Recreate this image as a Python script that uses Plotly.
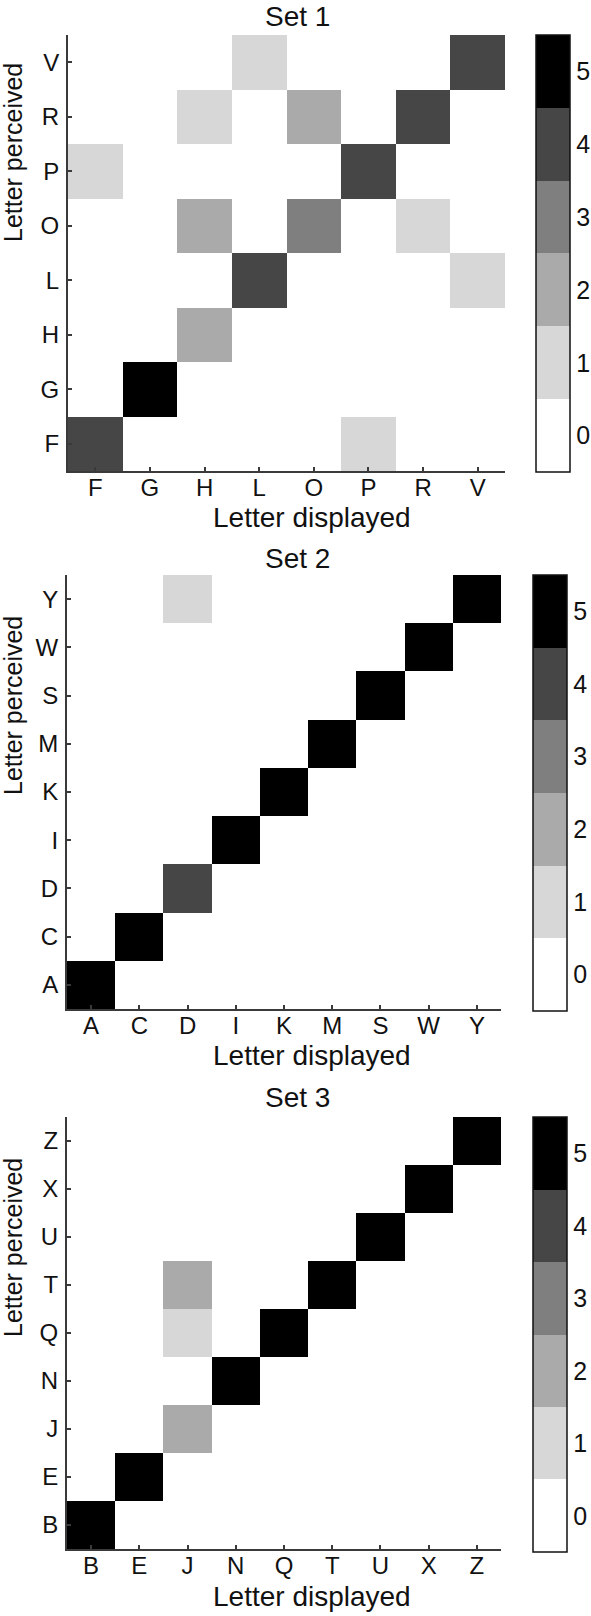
import plotly.graph_objects as go

# ---------------- data ----------------
set1_letters = ["F", "G", "H", "L", "O", "P", "R", "V"]
# rows = letter perceived (bottom -> top), columns = letter displayed
set1_z = [
    [4, 0, 0, 0, 0, 1, 0, 0],  # F
    [0, 5, 0, 0, 0, 0, 0, 0],  # G
    [0, 0, 2, 0, 0, 0, 0, 0],  # H
    [0, 0, 0, 4, 0, 0, 0, 1],  # L
    [0, 0, 2, 0, 3, 0, 1, 0],  # O
    [1, 0, 0, 0, 0, 4, 0, 0],  # P
    [0, 0, 1, 0, 2, 0, 4, 0],  # R
    [0, 0, 0, 1, 0, 0, 0, 4],  # V
]

set2_letters = ["A", "C", "D", "I", "K", "M", "S", "W", "Y"]
set2_z = [
    [5, 0, 0, 0, 0, 0, 0, 0, 0],  # A
    [0, 5, 0, 0, 0, 0, 0, 0, 0],  # C
    [0, 0, 4, 0, 0, 0, 0, 0, 0],  # D
    [0, 0, 0, 5, 0, 0, 0, 0, 0],  # I
    [0, 0, 0, 0, 5, 0, 0, 0, 0],  # K
    [0, 0, 0, 0, 0, 5, 0, 0, 0],  # M
    [0, 0, 0, 0, 0, 0, 5, 0, 0],  # S
    [0, 0, 0, 0, 0, 0, 0, 5, 0],  # W
    [0, 0, 1, 0, 0, 0, 0, 0, 5],  # Y
]

set3_letters = ["B", "E", "J", "N", "Q", "T", "U", "X", "Z"]
set3_z = [
    [5, 0, 0, 0, 0, 0, 0, 0, 0],  # B
    [0, 5, 0, 0, 0, 0, 0, 0, 0],  # E
    [0, 0, 2, 0, 0, 0, 0, 0, 0],  # J
    [0, 0, 0, 5, 0, 0, 0, 0, 0],  # N
    [0, 0, 1, 0, 5, 0, 0, 0, 0],  # Q
    [0, 0, 2, 0, 0, 5, 0, 0, 0],  # T
    [0, 0, 0, 0, 0, 0, 5, 0, 0],  # U
    [0, 0, 0, 0, 0, 0, 0, 5, 0],  # X
    [0, 0, 0, 0, 0, 0, 0, 0, 5],  # Z
]

titles = ["Set 1", "Set 2", "Set 3"]
colorbar_ticks = [0, 1, 2, 3, 4, 5]
level_colors = ["#ffffff", "#d7d7d7", "#aaaaaa", "#7f7f7f", "#464646", "#000000"]

# ---------------- layout geometry (pixels) ----------------
W, H = 591, 1616
FONT = "Liberation Sans, Arial, Helvetica, sans-serif"
TXT = "#111111"

panels = [
    dict(x0=68, x1=505, y0=35, y1=471, cb_x0=536, cb_x1=570, cb_y0=35, cb_y1=472,
         title_y=17, xt_y=517, yt_y=153),
    dict(x0=67, x1=501, y0=575, y1=1009, cb_x0=533, cb_x1=567, cb_y0=575, cb_y1=1011,
         title_y=558, xt_y=1055, yt_y=706),
    dict(x0=67, x1=501, y0=1117, y1=1549, cb_x0=533, cb_x1=567, cb_y0=1117, cb_y1=1552,
         title_y=1097, xt_y=1596, yt_y=1248),
]

# discrete colorscale
n = len(level_colors)
cscale = []
for i, c in enumerate(level_colors):
    cscale.append([i / n, c])
    cscale.append([(i + 1) / n, c])

data_sets = [(set1_letters, set1_z), (set2_letters, set2_z), (set3_letters, set3_z)]

fig = go.Figure()
annotations = []
for k, ((letters, z), p) in enumerate(zip(data_sets, panels)):
    xa = "x" if k == 0 else f"x{k+1}"
    ya = "y" if k == 0 else f"y{k+1}"
    fig.add_trace(go.Heatmap(
        x=letters, y=letters, z=z,
        xaxis=xa, yaxis=ya,
        colorscale=cscale, zmin=-0.5, zmax=5.5,
        showscale=True,
        colorbar=dict(
            x=p["cb_x0"] / W, xanchor="left", xref="paper",
            y=1 - p["cb_y0"] / H, yanchor="top",
            lenmode="pixels", len=p["cb_y1"] - p["cb_y0"],
            thicknessmode="pixels", thickness=p["cb_x1"] - p["cb_x0"],
            outlinecolor="#111111", outlinewidth=1.5,
            tickvals=colorbar_ticks, ticktext=[str(t) for t in colorbar_ticks],
            ticks="", ticklen=0,
            tickfont=dict(family=FONT, size=25, color=TXT),
            xpad=0, ypad=0,
        ),
        hoverinfo="skip",
    ))
    axis_common = dict(
        showline=True, linecolor="#3a3a3a", linewidth=2,
        ticks="inside", ticklen=4, tickwidth=1.5, tickcolor="#3a3a3a",
        showgrid=False, zeroline=False, mirror=False,
        tickfont=dict(family=FONT, size=24, color=TXT),
        fixedrange=True,
    )
    fig.update_layout(**{
        ("xaxis" if k == 0 else f"xaxis{k+1}"): dict(
            domain=[p["x0"] / W, p["x1"] / W], anchor=ya,
            type="category", categoryorder="array", categoryarray=letters,
            ticklabelstandoff=-6,
            **axis_common),
        ("yaxis" if k == 0 else f"yaxis{k+1}"): dict(
            domain=[1 - p["y1"] / H, 1 - p["y0"] / H], anchor=xa,
            type="category", categoryorder="array", categoryarray=letters,
            ticklabelstandoff=2,
            **axis_common),
    })
    annotations.append(dict(text=titles[k], x=297 / W, y=1 - p["title_y"] / H,
                            xref="paper", yref="paper", xanchor="center", yanchor="middle",
                            showarrow=False, font=dict(family=FONT, size=28, color=TXT)))
    annotations.append(dict(text="Letter displayed", x=312 / W, y=1 - p["xt_y"] / H,
                            xref="paper", yref="paper", xanchor="center", yanchor="middle",
                            showarrow=False, font=dict(family=FONT, size=28, color=TXT)))
    annotations.append(dict(text="Letter perceived", x=13 / W, y=1 - p["yt_y"] / H,
                            xref="paper", yref="paper", xanchor="center", yanchor="middle",
                            textangle=-90,
                            showarrow=False, font=dict(family=FONT, size=25, color=TXT)))

fig.update_layout(
    width=W, height=H,
    margin=dict(l=0, r=0, t=0, b=0),
    paper_bgcolor="white", plot_bgcolor="white",
    annotations=annotations,
    showlegend=False,
)

fig.write_html(
    "out.html",
    config={"displayModeBar": False},
    post_script="document.body.style.margin='0';document.body.style.overflow='hidden';",
)
